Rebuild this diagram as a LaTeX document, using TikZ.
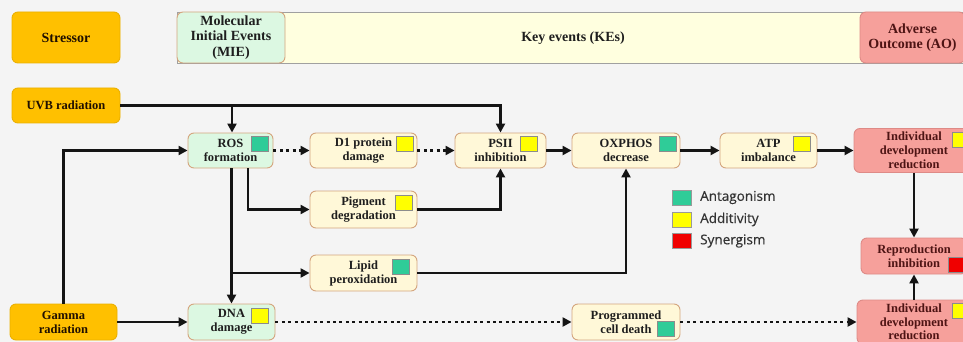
\documentclass[tikz,border=0pt]{standalone}
\usepackage{fontspec}
\setmainfont{Liberation Serif}
\newfontfamily\legendfont[FakeBold=0.5]{Open Sans}
\usetikzlibrary{arrows.meta}

\definecolor{bgcol}{HTML}{F4F4F4}
\definecolor{orangefill}{HTML}{FFC000}
\definecolor{orangeline}{HTML}{EBB000}
\definecolor{greenfill}{HTML}{DCF8E2}
\definecolor{yellowfill}{HTML}{FFF8D8}
\definecolor{tanline}{HTML}{D4A57E}
\definecolor{pinkfill}{HTML}{F6A09B}
\definecolor{pinkline}{HTML}{DE8A86}
\definecolor{barfill}{HTML}{FFFFDF}
\definecolor{barline}{HTML}{A0A0A0}
\definecolor{maroon}{HTML}{4E1414}
\definecolor{inkcol}{HTML}{1E1E1E}
\definecolor{teal}{HTML}{2FCC98}
\definecolor{yel}{HTML}{FFFF00}
\definecolor{redsq}{HTML}{F00000}

\tikzset{
  base/.style={rounded corners=6pt, line width=0.9pt, align=center, inner sep=1pt,
    font=\fontsize{12.5}{14}\selectfont\bfseries, text=inkcol},
  stressorbox/.style={base, fill=orangefill, draw=orangeline, text=black!88!orange},
  miebox/.style={base, fill=greenfill, draw=tanline},
  kebox/.style={base, fill=yellowfill, draw=tanline},
  aobox/.style={base, fill=pinkfill, draw=pinkline, text=maroon},
  headfont/.style={font=\fontsize{14}{15.5}\selectfont\bfseries},
  sq/.style={draw=black!45, line width=0.6pt, minimum width=17pt, minimum height=15pt, inner sep=0pt},
  legsq/.style={draw=black!40, line width=0.6pt, minimum width=19pt, minimum height=15pt, inner sep=0pt},
  legtext/.style={anchor=west, inner sep=0pt, font=\legendfont\fontsize{13.5}{15}\selectfont, text=black!80},
  arr/.style={draw=black!92, line width=2.8pt, -{Triangle[length=9pt,width=9pt]}},
  dotarr/.style={arr, dash pattern=on 3pt off 3.4pt},
}

\begin{document}
\begin{tikzpicture}[x=1pt, y=-1pt]
  \useasboundingbox (0,0) rectangle (963,342);
  \clip (0,0) rectangle (963,342);
  \fill[bgcol] (0,0) rectangle (963,342);

  % header row
  \node[stressorbox, headfont, minimum width=108pt, minimum height=51pt] (stressor) at (66,37.5) {Stressor};
  \node[draw=barline, fill=barfill, line width=0.9pt, minimum width=798pt, minimum height=51pt, inner sep=0pt] (bar) at (576,37.5) {};
  \node[headfont, text=inkcol, inner sep=0pt] (kes) at (573,38) {Key events (KEs)};
  \node[miebox, headfont, minimum width=108pt, minimum height=51pt] (mie) at (231,37.5) {Molecular\\Initial Events\\(MIE)};
  \node[aobox, headfont, minimum width=105pt, minimum height=51pt] (ao) at (912.5,37.5) {Adverse\\Outcome (AO)};

  % stressors
  \node[stressorbox, minimum width=108pt, minimum height=35pt] (uvb) at (66,105.5) {UVB radiation};
  \node[stressorbox, minimum width=107pt, minimum height=36pt] (gamma) at (63.5,322) {Gamma\\radiation};

  % molecular initial events
  \node[miebox, minimum width=85pt, minimum height=35pt] (ros) at (230.5,150.5) {ROS\\formation};
  \node[miebox, minimum width=87pt, minimum height=36pt] (dna) at (231.5,322) {DNA\\damage};

  % key events
  \node[kebox, minimum width=107pt, minimum height=35pt] (d1) at (363.5,150.5) {D1 protein\\damage};
  \node[kebox, minimum width=91pt, minimum height=35pt] (psii) at (500.5,150.5) {PSII\\inhibition};
  \node[kebox, minimum width=108pt, minimum height=35pt] (oxphos) at (626,150.5) {OXPHOS\\decrease};
  \node[kebox, minimum width=97pt, minimum height=35pt] (atp) at (768.5,150.5) {ATP\\imbalance};
  \node[kebox, minimum width=107pt, minimum height=37pt] (pigment) at (363.5,209.5) {Pigment\\degradation};
  \node[kebox, minimum width=107pt, minimum height=36pt] (lipid) at (363.5,273) {Lipid\\peroxidation};
  \node[kebox, minimum width=108pt, minimum height=36pt] (pcd) at (626,322) {Programmed\\cell death};

  % adverse outcomes
  \node[aobox, minimum width=120pt, minimum height=44pt] (idrtop) at (914,150.5) {Individual\\development\\reduction};
  \node[aobox, minimum width=106pt, minimum height=36pt] (repro) at (914,256) {Reproduction\\inhibition};
  \node[aobox, minimum width=114pt, minimum height=44pt, font=\fontsize{12.5}{13.5}\selectfont\bfseries] (idrbot) at (914,322) {Individual\\development\\reduction};

  % interaction markers
  \node[sq, fill=teal] (ros-sq) at (260,144) {};
  \node[sq, fill=yel] (d1-sq) at (405,144) {};
  \node[sq, fill=yel] (psii-sq) at (529,144) {};
  \node[sq, fill=teal] (oxphos-sq) at (667.5,144) {};
  \node[sq, fill=yel] (atp-sq) at (802,144) {};
  \node[sq, fill=yel] (idrtop-sq) at (961,140) {};
  \node[sq, fill=yel] (pigment-sq) at (404,203) {};
  \node[sq, fill=teal] (lipid-sq) at (400.5,266.5) {};
  \node[sq, fill=redsq] (repro-sq) at (957,264.5) {};
  \node[sq, fill=yel] (dna-sq) at (259.5,315.5) {};
  \node[sq, fill=teal] (pcd-sq) at (665.5,329) {};
  \node[sq, fill=yel] (idrbot-sq) at (961,310.5) {};

  % legend
  \node[legsq, fill=teal] (leg-ant) at (681.5,197.5) {};
  \node[legsq, fill=yel] (leg-add) at (681.5,219.5) {};
  \node[legsq, fill=redsq] (leg-syn) at (681.5,241) {};
  \node[legtext] (leg-ant-t) at (700,197.5) {Antagonism};
  \node[legtext] (leg-add-t) at (700,219.5) {Additivity};
  \node[legtext] (leg-syn-t) at (700,241) {Synergism};

  % connectors
  \coordinate (uvbsplit) at (232,105.5);
  \draw[arr] (uvb.east) -| (psii.north);
  \draw[arr] (uvbsplit) -- (uvbsplit |- ros.north);
  \draw[arr] (gamma.north) |- (ros.west);
  \draw[arr] (gamma.east) -- (dna.west);

  \draw[dotarr] (ros.east) -- (d1.west);
  \draw[dotarr] (d1.east) -- (psii.west);

  \coordinate (rostrunk) at (dna.north |- ros.south);
  \draw[arr] (rostrunk) -- (dna.north);
  \draw[arr] (dna.north |- lipid.west) -- (lipid.west);
  \draw[arr] ([xshift=17.5pt]ros.south) |- (pigment.west);
  \draw[arr] (pigment.east) -| (psii.south);
  \draw[arr] (lipid.east) -| (oxphos.south);

  \draw[arr] (psii.east) -- (oxphos.west);
  \draw[arr] (oxphos.east) -- (atp.west);
  \draw[arr] (atp.east) -- (idrtop.west);
  \draw[arr] (idrtop.south) -- (repro.north);
  \draw[arr] (idrbot.north) -- (repro.south);

  \draw[dotarr] (dna.east) -- (pcd.west);
  \draw[dotarr] (pcd.east) -- (idrbot.west);
\end{tikzpicture}
\end{document}
